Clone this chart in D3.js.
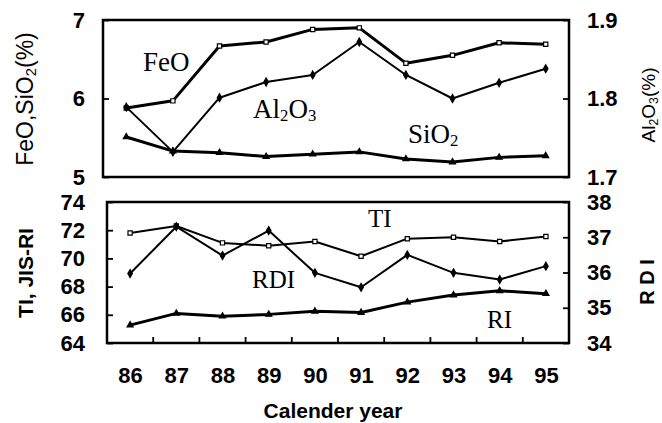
<!DOCTYPE html>
<html><head><meta charset="utf-8">
<script src="https://cdn.jsdelivr.net/npm/d3@7"></script>
<style>
html,body{margin:0;padding:0;background:#fff;}
svg{display:block;}
.tick text{font-family:"Liberation Sans",Arial,sans-serif;font-weight:bold;font-size:22px;fill:#000;}
.serif{font-family:"Liberation Serif","Times New Roman",serif;fill:#000;}
</style></head>
<body>
<svg id="chart" width="662" height="423"></svg>
<script>
// ---------- data ----------
const years = ["86","87","88","89","90","91","92","93","94","95"];
const feo   = [5.88, 5.97, 6.67, 6.72, 6.88, 6.90, 6.45, 6.55, 6.71, 6.69];
const al2o3 = [1.789, 1.732, 1.801, 1.821, 1.830, 1.872, 1.830, 1.800, 1.820, 1.838];
const sio2  = [5.51, 5.33, 5.31, 5.26, 5.29, 5.32, 5.23, 5.19, 5.25, 5.27];
const ti    = [71.8, 72.3, 71.1, 70.9, 71.2, 70.15, 71.4, 71.5, 71.2, 71.55];
const rdi   = [35.97, 37.30, 36.48, 37.19, 35.99, 35.58, 36.5, 35.99, 35.8, 36.18];
const ri    = [65.27, 66.1, 65.9, 66.03, 66.25, 66.16, 66.9, 67.4, 67.7, 67.5];
const topLeftTicks  = [5, 6, 7];
const topRightTicks = [1.7, 1.8, 1.9];
const botLeftTicks  = [64, 66, 68, 70, 72, 74];
const botRightTicks = [34, 35, 36, 37, 38];

const svg = d3.select("#chart");

const T = {l:103, r:569, t:20, b:177};
const B = {l:107, r:569, t:202, b:343};

const xTop = d3.scalePoint().domain(years).range([T.l, T.r]).padding(0.5);
const xBot = d3.scalePoint().domain(years).range([B.l, B.r]).padding(0.5);
const yTL = d3.scaleLinear().domain([5,7]).range([T.b, T.t]);
const yTR = d3.scaleLinear().domain([1.7,1.9]).range([T.b, T.t]);
const yBL = d3.scaleLinear().domain([64,74]).range([B.b, B.t]);
const yBR = d3.scaleLinear().domain([34,38]).range([B.b, B.t]);

function frame(P){
  svg.append("rect").attr("x",P.l).attr("y",P.t).attr("width",P.r-P.l).attr("height",P.b-P.t)
    .attr("fill","none").attr("stroke","#000").attr("stroke-width",2.5);
}
function axis(gen, tx, ty){
  const g = svg.append("g").attr("transform",`translate(${tx},${ty})`).call(gen);
  g.select(".domain").remove();
  g.selectAll(".tick line").attr("stroke","#000").attr("stroke-width",1.8);
  return g;
}
frame(T); frame(B);

axis(d3.axisLeft(yTL).tickValues(topLeftTicks).tickFormat(d3.format("d")).tickSize(-6).tickPadding(18), T.l, 0);
axis(d3.axisRight(yTR).tickValues(topRightTicks).tickFormat(d3.format(".1f")).tickSize(-6).tickPadding(18), T.r, 0);
axis(d3.axisLeft(yBL).tickValues(botLeftTicks).tickFormat(d3.format("d")).tickSize(-6).tickPadding(22), B.l, 0);
axis(d3.axisRight(yBR).tickValues(botRightTicks).tickFormat(d3.format("d")).tickSize(-6).tickPadding(18), B.r, 0);

const gx = axis(d3.axisBottom(xBot).tickSize(0).tickPadding(24), 0, B.b);
const step = xBot.step();
svg.append("g").selectAll("line").data(years.slice(1)).join("line")
  .attr("x1",d=>xBot(d)-step/2).attr("x2",d=>xBot(d)-step/2)
  .attr("y1",B.b).attr("y2",B.b-6).attr("stroke","#000").attr("stroke-width",1.8);

// ---------- series ----------
function series(x, y, vals, width, marker, fill, size){
  const pts = vals.map((v,i)=>[x(years[i]), y(v)]);
  svg.append("path").attr("d", d3.line()(pts)).attr("fill","none")
    .attr("stroke","#000").attr("stroke-width",width).attr("stroke-linejoin","round");
  svg.append("g").selectAll("path").data(pts).join("path")
    .attr("transform",d=>`translate(${d[0]},${d[1]})`)
    .attr("d", d3.symbol().type(marker).size(size)())
    .attr("fill", fill).attr("stroke","#000").attr("stroke-width",1.2);
}
series(xTop, yTL, feo,   3.0, d3.symbolSquare,  "#fff", 18);
series(xTop, yTR, al2o3, 2.0, d3.symbolDiamond, "#000", 18);
series(xTop, yTL, sio2,  3.0, d3.symbolTriangle,"#000", 16);
series(xBot, yBL, ti,    2.0, d3.symbolSquare,  "#fff", 18);
series(xBot, yBR, rdi,   2.0, d3.symbolDiamond, "#000", 18);
series(xBot, yBL, ri,    3.0, d3.symbolTriangle,"#000", 16);

// ---------- series labels ----------
function label(x, y, parts, size){
  const t = svg.append("text").attr("class","serif").attr("x",x).attr("y",y).attr("font-size",size);
  parts.forEach(p=>{
    if (p.sub) t.append("tspan").attr("font-size",size*0.62).attr("dy",size*0.12).text(p.t);
    else t.append("tspan").attr("dy", p.back? -size*0.12 : 0).text(p.t);
  });
}
label(143, 71, [{t:"FeO"}], 27);
label(253, 118, [{t:"Al"},{t:"2",sub:1},{t:"O",back:1},{t:"3",sub:1}], 27);
label(408, 143, [{t:"SiO"},{t:"2",sub:1}], 27);
label(368, 227, [{t:"TI"}], 25);
label(252, 288, [{t:"RDI"}], 25);
label(487, 328, [{t:"RI"}], 25);

// ---------- axis titles ----------
function vtitle(cx, cy, parts, size, weight){
  const t = svg.append("text").attr("transform",`translate(${cx},${cy}) rotate(-90)`)
    .attr("text-anchor","middle").attr("font-family","'Liberation Sans',Arial,sans-serif")
    .attr("font-weight",weight).attr("font-size",size).attr("fill","#000");
  parts.forEach(p=>{
    if (p.sub) t.append("tspan").attr("font-size",size*0.65).attr("dy",size*0.15).text(p.t);
    else t.append("tspan").attr("dy", p.back? -size*0.15 : 0).text(p.t);
  });
}
vtitle(33, 99, [{t:"FeO,SiO"},{t:"2",sub:1},{t:"(%)",back:1}], 23, "normal");
vtitle(655, 105, [{t:"Al"},{t:"2",sub:1},{t:"O",back:1},{t:"3",sub:1},{t:"(%)",back:1}], 19, "normal");
vtitle(33, 273, [{t:"TI, JIS-RI"}], 21, "bold");
vtitle(654, 282, [{t:"R D I"}], 20, "bold");

svg.append("text").attr("x",333).attr("y",418).attr("text-anchor","middle")
  .attr("font-family","'Liberation Sans',Arial,sans-serif").attr("font-weight","bold")
  .attr("font-size",21).text("Calender year");
</script>
</body></html>
